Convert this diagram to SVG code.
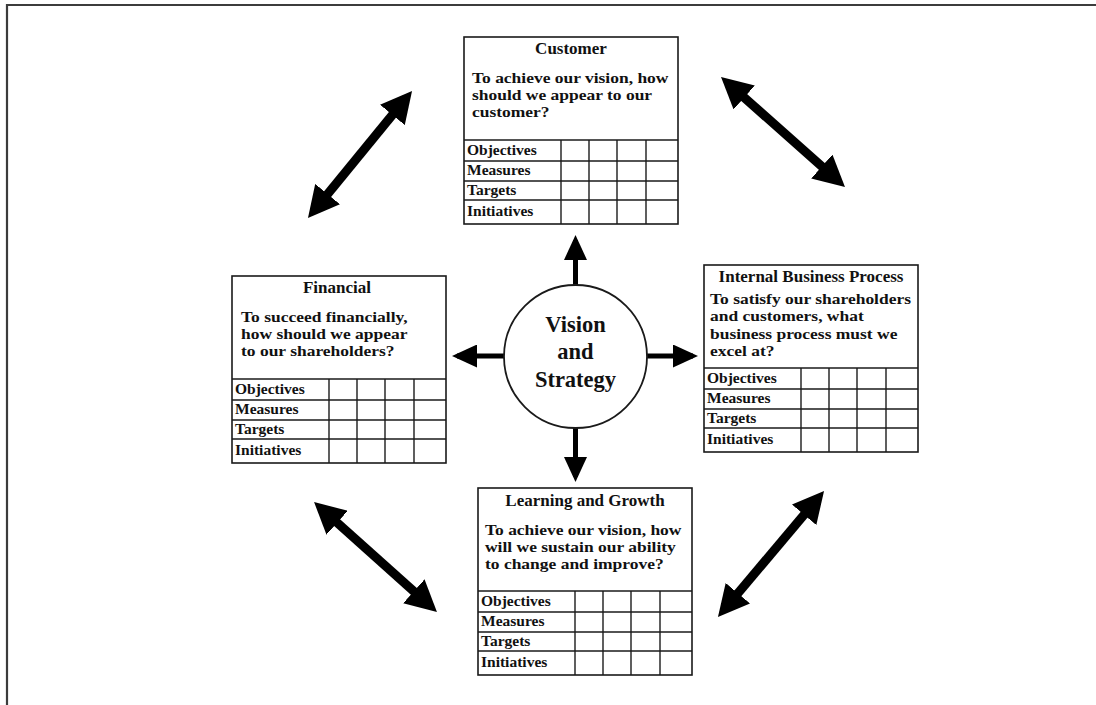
<svg xmlns="http://www.w3.org/2000/svg" width="1096" height="705" viewBox="0 0 1096 705">
<style>
.frame{stroke:#3c3c3c;stroke-width:2.2;fill:none}
.box{fill:#fff;stroke:#1a1a1a;stroke-width:1.6}
.grid{stroke:#1a1a1a;stroke-width:1.4;fill:none}
.t{font-family:"Liberation Serif","Times New Roman",serif;font-weight:bold;fill:#111}
.title{font-size:17px;text-anchor:middle}
.q{font-size:15.2px}
.lbl{font-size:15.5px}
.vs{font-size:22.5px;text-anchor:middle}
.big{stroke:#000;stroke-width:9;fill:none;marker-start:url(#bh);marker-end:url(#bh)}
.small{stroke:#000;stroke-width:5;fill:none;marker-end:url(#sh)}
</style>
<defs>
<marker id="bh" viewBox="0 0 31 32" markerWidth="31" markerHeight="32" refX="21" refY="16" orient="auto-start-reverse" markerUnits="userSpaceOnUse">
<path d="M0,0 L31,16 L0,32 z" fill="#000"/>
</marker>
<marker id="sh" viewBox="0 0 25 23" markerWidth="25" markerHeight="23" refX="20" refY="11.5" orient="auto" markerUnits="userSpaceOnUse">
<path d="M0,0 L25,11.5 L0,23 z" fill="#000"/>
</marker>
<g id="table">
<line x1="0" y1="103" x2="214" y2="103"/>
<line x1="0" y1="124" x2="214" y2="124"/>
<line x1="0" y1="144" x2="214" y2="144"/>
<line x1="0" y1="163" x2="214" y2="163"/>
<line x1="97" y1="103" x2="97" y2="187"/>
<line x1="125" y1="103" x2="125" y2="187"/>
<line x1="153" y1="103" x2="153" y2="187"/>
<line x1="182" y1="103" x2="182" y2="187"/>
</g>
</defs>
<rect width="1096" height="705" fill="#fff"/>
<path class="frame" d="M7,705 L7,5 L1096,5"/>

<g id="connectors">
<line class="big" x1="405.7" y1="98.7" x2="314.3" y2="210.3"/>
<line class="big" x1="728.5" y1="83.6" x2="837.5" y2="180.4"/>
<line class="big" x1="321.5" y1="508.7" x2="429.5" y2="605.3"/>
<line class="big" x1="817.6" y1="498.7" x2="724.4" y2="609.3"/>
<line class="small" x1="575.5" y1="286" x2="575.5" y2="240"/>
<line class="small" x1="505" y1="356" x2="457" y2="356"/>
<line class="small" x1="646" y1="356" x2="693" y2="356"/>
<line class="small" x1="575.5" y1="427" x2="575.5" y2="477"/>
</g>

<g id="customer" transform="translate(464,37)">
<rect class="box" x="0" y="0" width="214" height="187"/>
<use href="#table" class="grid"/>
<text class="t title" x="107" y="17">Customer</text>
<g transform="translate(8,0) scale(1.15,1)">
<text class="t q" x="0" y="46.5">To achieve our vision, how</text>
<text class="t q" x="0" y="63.5">should we appear to our</text>
<text class="t q" x="0" y="80.5">customer?</text>
</g>
<text class="t lbl" x="3" y="118">Objectives</text>
<text class="t lbl" x="3" y="138">Measures</text>
<text class="t lbl" x="3" y="158">Targets</text>
<text class="t lbl" x="3" y="179">Initiatives</text>
</g>

<g id="financial" transform="translate(232,276)">
<rect class="box" x="0" y="0" width="214" height="187"/>
<use href="#table" class="grid"/>
<text class="t title" x="105" y="16.5">Financial</text>
<g transform="translate(9,0) scale(1.15,1)">
<text class="t q" x="0" y="46.5">To succeed financially,</text>
<text class="t q" x="0" y="63.5">how should we appear</text>
<text class="t q" x="0" y="80.5">to our shareholders?</text>
</g>
<text class="t lbl" x="3" y="118">Objectives</text>
<text class="t lbl" x="3" y="138">Measures</text>
<text class="t lbl" x="3" y="158">Targets</text>
<text class="t lbl" x="3" y="179">Initiatives</text>
</g>

<g id="internal" transform="translate(704,265)">
<rect class="box" x="0" y="0" width="214" height="187"/>
<use href="#table" class="grid"/>
<text class="t title" x="107" y="16.5">Internal Business Process</text>
<g transform="translate(6,0) scale(1.15,1)">
<text class="t q" x="0" y="39">To satisfy our shareholders</text>
<text class="t q" x="0" y="56.5">and customers, what</text>
<text class="t q" x="0" y="74">business process must we</text>
<text class="t q" x="0" y="91.5">excel at?</text>
</g>
<text class="t lbl" x="3" y="118">Objectives</text>
<text class="t lbl" x="3" y="138">Measures</text>
<text class="t lbl" x="3" y="158">Targets</text>
<text class="t lbl" x="3" y="179">Initiatives</text>
</g>

<g id="learning" transform="translate(478,488)">
<rect class="box" x="0" y="0" width="214" height="187"/>
<use href="#table" class="grid"/>
<text class="t title" x="107" y="17.5">Learning and Growth</text>
<g transform="translate(7,0) scale(1.15,1)">
<text class="t q" x="0" y="47">To achieve our vision, how</text>
<text class="t q" x="0" y="64.5">will we sustain our ability</text>
<text class="t q" x="0" y="81.5">to change and improve?</text>
</g>
<text class="t lbl" x="3" y="118">Objectives</text>
<text class="t lbl" x="3" y="138">Measures</text>
<text class="t lbl" x="3" y="158">Targets</text>
<text class="t lbl" x="3" y="179">Initiatives</text>
</g>

<g id="vision">
<circle cx="575.5" cy="356.5" r="71.5" fill="#fff" stroke="#1a1a1a" stroke-width="1.8"/>
<text class="t vs" x="575.5" y="331.5">Vision</text>
<text class="t vs" x="575.5" y="359">and</text>
<text class="t vs" x="575.5" y="386.5">Strategy</text>
</g>
</svg>
